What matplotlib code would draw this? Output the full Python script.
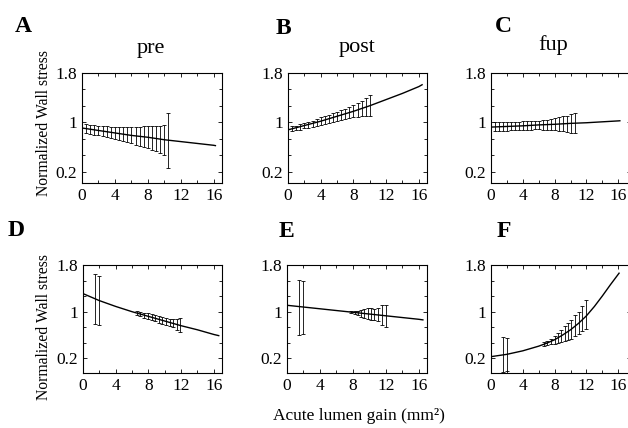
import matplotlib
matplotlib.use("Agg")
import matplotlib.pyplot as plt
from matplotlib.ticker import MultipleLocator, AutoMinorLocator

plt.rcParams['font.family'] = ['Liberation Serif', 'DejaVu Serif']

# ---- data ----
# A: pre
pre_curve_x = [0, 2, 4, 6, 8, 10, 12, 14, 16, 16.2]
pre_curve_y = [0.91, 0.87, 0.83, 0.79, 0.76, 0.72, 0.69, 0.66, 0.63, 0.625]
pre_bar_x = [0.5, 1.0, 1.5, 2.0, 2.5, 3.0, 3.5, 4.0, 4.5, 5.0, 5.5,
             6.0, 6.5, 7.0, 7.5, 8.0, 8.5, 9.0, 9.5, 10.0, 10.5]
pre_bar_y = [0.90, 0.89, 0.88, 0.87, 0.86, 0.85, 0.84, 0.83, 0.82, 0.81, 0.80,
             0.79, 0.78, 0.775, 0.77, 0.76, 0.75, 0.74, 0.73, 0.72, 0.71]
pre_bar_err = [0.07, 0.07, 0.08, 0.08, 0.08, 0.09, 0.09, 0.10, 0.10, 0.11, 0.12,
               0.13, 0.14, 0.15, 0.17, 0.18, 0.19, 0.20, 0.22, 0.24, 0.45]

# B: post
post_curve_x = [0, 2, 4, 6, 8, 10, 12, 14, 16, 16.4]
post_curve_y = [0.88, 0.95, 1.02, 1.10, 1.18, 1.27, 1.37, 1.47, 1.58, 1.61]
post_bar_x = [0.5, 1.0, 1.5, 2.0, 2.5, 3.0, 3.5, 4.0, 4.5, 5.0,
              5.5, 6.0, 6.5, 7.0, 7.5, 8.0, 8.5, 9.0, 9.5, 10.0]
post_bar_y = [0.90, 0.91, 0.93, 0.95, 0.965, 0.98, 1.0, 1.02, 1.04, 1.06,
              1.08, 1.10, 1.12, 1.14, 1.16, 1.18, 1.20, 1.22, 1.25, 1.27]
post_bar_err = [0.04, 0.04, 0.045, 0.045, 0.05, 0.05, 0.055, 0.06, 0.06, 0.065,
                0.07, 0.075, 0.08, 0.085, 0.09, 0.10, 0.11, 0.12, 0.14, 0.17]

# C: fup
fup_curve_x = [0, 2, 4, 6, 8, 10, 12, 14, 16, 16.2]
fup_curve_y = [0.925, 0.935, 0.945, 0.96, 0.97, 0.985, 0.995, 1.01, 1.025, 1.027]
fup_bar_x = [0.5, 1.0, 1.5, 2.0, 2.5, 3.0, 3.5, 4.0, 4.5, 5.0, 5.5,
             6.0, 6.5, 7.0, 7.5, 8.0, 8.5, 9.0, 9.5, 10.0, 10.5]
fup_bar_y = [0.93, 0.93, 0.935, 0.935, 0.94, 0.94, 0.945, 0.95, 0.95, 0.955, 0.955,
             0.96, 0.96, 0.965, 0.97, 0.97, 0.975, 0.98, 0.98, 0.985, 0.99]
fup_bar_err = [0.07, 0.07, 0.07, 0.07, 0.07, 0.07, 0.07, 0.07, 0.07, 0.07, 0.065,
               0.065, 0.075, 0.08, 0.09, 0.10, 0.11, 0.12, 0.13, 0.15, 0.165]

# D
d_curve_x = [0, 2, 4, 6, 8, 10, 12, 14, 16, 16.6]
d_curve_y = [1.31, 1.19, 1.09, 1.00, 0.92, 0.84, 0.76, 0.69, 0.61, 0.59]
d_bar_x = [1.5, 2.0, 6.6, 7.0, 7.5, 7.9, 8.4, 8.8, 9.3, 9.7, 10.2, 10.6, 11.0, 11.5, 11.9]
d_bar_y = [1.22, 1.20, 0.975, 0.96, 0.94, 0.925, 0.905, 0.89, 0.87, 0.855, 0.83,
           0.815, 0.80, 0.78, 0.765]
d_bar_err = [0.43, 0.42, 0.04, 0.04, 0.045, 0.05, 0.05, 0.055, 0.055, 0.06, 0.06,
             0.065, 0.07, 0.10, 0.12]

# E
e_curve_x = [0, 2, 4, 6, 8, 10, 12, 14, 16, 16.5]
e_curve_y = [1.11, 1.08, 1.05, 1.02, 0.99, 0.96, 0.93, 0.90, 0.87, 0.86]
e_bar_x = [1.4, 1.9, 7.8, 8.2, 8.6, 9.0, 9.4, 9.8, 10.2, 10.6, 11.0, 11.5, 12.0]
e_bar_y = [1.07, 1.07, 0.99, 0.985, 0.98, 0.975, 0.97, 0.965, 0.96, 0.95, 0.945, 0.94, 0.93]
e_bar_err = [0.47, 0.45, 0.02, 0.03, 0.04, 0.06, 0.08, 0.09, 0.10, 0.10, 0.11, 0.17, 0.19]

# F
f_curve_x = [0, 1, 2, 3, 4, 5, 6, 7, 8, 9, 10, 11, 12, 13, 14, 15, 16.1]
f_curve_y = [0.23, 0.25, 0.27, 0.30, 0.33, 0.37, 0.41, 0.46, 0.52, 0.60, 0.69,
             0.80, 0.93, 1.09, 1.27, 1.46, 1.66]
f_bar_x = [1.45, 2.0, 6.7, 7.1, 7.5, 8.0, 8.4, 8.8, 9.3, 9.7, 10.1, 10.6, 11.0, 11.5, 12.0]
f_bar_y = [0.27, 0.27, 0.445, 0.465, 0.49, 0.52, 0.55, 0.585, 0.625, 0.66, 0.70,
           0.76, 0.81, 0.88, 0.95]
f_bar_err = [0.30, 0.28, 0.03, 0.04, 0.05, 0.07, 0.09, 0.11, 0.13, 0.15, 0.16,
             0.18, 0.19, 0.21, 0.25]

panel_letters = ["A", "B", "C", "D", "E", "F"]
col_titles = ["pre", "post", "fup"]
y_ticks = [0.2, 1, 1.8]
y_ticklabels = ["0.2", "1", "1.8"]
x_ticks = [0, 4, 8, 12, 16]

panels = [
    (pre_curve_x, pre_curve_y, pre_bar_x, pre_bar_y, pre_bar_err),
    (post_curve_x, post_curve_y, post_bar_x, post_bar_y, post_bar_err),
    (fup_curve_x, fup_curve_y, fup_bar_x, fup_bar_y, fup_bar_err),
    (d_curve_x, d_curve_y, d_bar_x, d_bar_y, d_bar_err),
    (e_curve_x, e_curve_y, e_bar_x, e_bar_y, e_bar_err),
    (f_curve_x, f_curve_y, f_bar_x, f_bar_y, f_bar_err),
]

W, H = 628, 428
fig = plt.figure(figsize=(W / 100, H / 100), dpi=100)


def fx(px):
    return px / W


def fy(py):
    return 1 - py / H


# axes boxes in pixels: left, top, right, bottom (right column runs past the edge)
boxes = [(82, 73, 222, 183), (288, 73, 427, 183), (491, 73, 631, 183),
         (83, 265, 222, 373), (287, 265, 427, 373), (491, 265, 631, 373)]
ylims = [(0.02, 1.8)] * 3 + [(-0.05, 1.8)] * 3
xmax = [17, 17, 17.6, 17, 17, 17.6]

for i, (cx, cy, bx, by, be) in enumerate(panels):
    l, t, r, b = boxes[i]
    ax = fig.add_axes([fx(l), fy(b), fx(r - l), (b - t) / H])
    ax.plot(cx, cy, color="black", lw=1.0)
    ax.errorbar(bx, by, yerr=be, fmt="none", ecolor="black", elinewidth=0.6,
                capsize=1.3, capthick=0.6)
    ax.set_xlim(0, xmax[i])
    ax.set_ylim(*ylims[i])
    ax.set_xticks(x_ticks)
    ax.set_yticks(y_ticks)
    ax.set_yticklabels(y_ticklabels)
    ax.xaxis.set_minor_locator(MultipleLocator(2))
    ax.yaxis.set_minor_locator(AutoMinorLocator(3))
    ax.tick_params(which="both", direction="in", top=True, right=True,
                   labelsize=12.5, pad=3.5, width=0.6)
    ax.tick_params(which="major", length=3)
    ax.tick_params(which="minor", length=2)
    for s in ax.spines.values():
        s.set_linewidth(0.8)

# panel letters
letter_pos = [(23, 27), (283, 28), (503, 27), (16, 231), (286, 232), (504, 232)]
for letter, (px, py) in zip(panel_letters, letter_pos):
    fig.text(fx(px), fy(py), letter, fontsize=17, fontweight="bold",
             ha="center", va="center")

# column titles
title_pos = [(151, 53), (357, 52), (553, 50)]
for title, (px, py) in zip(col_titles, title_pos):
    fig.text(fx(px), fy(py), title, fontsize=16, ha="center", va="baseline")

# y labels
for py in [123, 327]:
    fig.text(fx(44), fy(py), "Normalized Wall stress", fontsize=11.3,
             rotation=90, ha="center", va="center")

fig.text(fx(359), fy(416), "Acute lumen gain (mm²)", fontsize=12.5,
         ha="center", va="center")

fig.savefig("out.png", dpi=100)
